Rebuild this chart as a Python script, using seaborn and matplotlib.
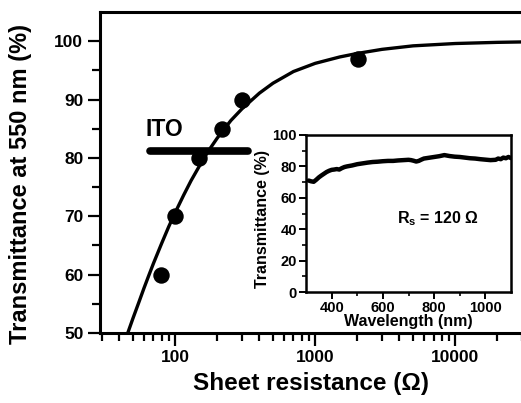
import numpy as np
import pandas as pd
import matplotlib
matplotlib.use("Agg")
import matplotlib.pyplot as plt
import seaborn as sns
from matplotlib.ticker import LogLocator, FixedLocator, MultipleLocator, NullFormatter

# ---- data ----
rs_points = [79, 100, 148, 217, 300, 2030]
t_points = [60.0, 70.0, 80.0, 85.0, 90.0, 96.9]

rs_fit = [45, 50, 55, 60, 65, 70, 80, 90, 100, 115, 130, 145, 160, 180, 200, 250, 300,
          400, 500, 700, 1000, 1500, 2000, 3000, 5000, 10000, 20000, 30000]
t_fit = [49.4, 52.5, 55.2, 57.7, 59.9, 61.9, 65.3, 68.2, 70.6, 73.6, 76.1, 78.1, 79.9,
         81.8, 83.4, 86.4, 88.4, 91.1, 92.8, 94.8, 96.2, 97.3, 97.9, 98.6, 99.2, 99.6,
         99.8, 99.87]

ito_rs = [66, 330]
ito_t = [81.2, 81.2]

wl = [310, 320, 330, 340, 350, 360, 370, 380, 390, 400, 410, 420, 430, 440, 450, 460,
      470, 480, 490, 500, 520, 540, 560, 580, 600, 620, 640, 660, 680, 700, 710, 720,
      730, 740, 750, 760, 780, 800, 820, 840, 860, 880, 900, 920, 940, 960, 980, 1000,
      1020, 1040, 1050, 1060, 1070, 1080, 1090, 1100]
tr = [71.0, 70.5, 70.2, 71.5, 73.0, 74.2, 75.3, 76.4, 77.2, 77.8, 78.0, 78.3, 78.0, 78.9,
      79.6, 80.0, 80.3, 80.6, 81.0, 81.4, 81.9, 82.4, 82.8, 83.0, 83.3, 83.5, 83.5, 83.8,
      84.0, 84.2, 84.0, 83.6, 83.1, 83.5, 84.3, 85.0, 85.5, 86.0, 86.5, 87.2, 86.6, 86.2,
      86.0, 85.6, 85.2, 85.0, 84.6, 84.3, 84.0, 84.2, 85.0, 84.6, 85.6, 85.2, 86.0, 85.3]

sns.set_theme(style="ticks")
plt.rcParams['font.family'] = ['Liberation Sans', 'DejaVu Sans']
plt.rcParams['font.weight'] = 'bold'
plt.rcParams['text.color'] = 'black'
plt.rcParams['axes.labelcolor'] = 'black'
plt.rcParams['xtick.color'] = 'black'
plt.rcParams['ytick.color'] = 'black'

fig = plt.figure(figsize=(5.21, 4.03), dpi=100)
W, H = 521, 403
ax = fig.add_axes([100 / W, 1 - 333 / H, (W - 100) / W + 0.002, (333 - 12) / H])

sns.lineplot(x=rs_fit, y=t_fit, ax=ax, color='black', linewidth=2.4, sort=False)
sns.scatterplot(x=rs_points, y=t_points, ax=ax, color='black', s=140, edgecolor='black',
                linewidth=0, zorder=5)
sns.lineplot(x=ito_rs, y=ito_t, ax=ax, color='black', linewidth=5.5, sort=False)
ax.text(83.5, 84.8, 'ITO', fontsize=16.5, fontweight='bold', ha='center', va='center',
        color='black')

ax.set_xscale('log')
ax.set_xlim(29.1, 30000)
ax.set_ylim(50, 105)
ax.yaxis.set_major_locator(FixedLocator([50, 60, 70, 80, 90, 100]))
ax.yaxis.set_minor_locator(FixedLocator([55, 65, 75, 85, 95]))
ax.xaxis.set_major_locator(FixedLocator([100, 1000, 10000]))
ax.xaxis.set_minor_locator(LogLocator(base=10, subs=np.arange(2, 10)))
ax.xaxis.set_minor_formatter(NullFormatter())
ax.set_xticklabels(['100', '1000', '10000'])

for s in ['left', 'bottom', 'top']:
    ax.spines[s].set_linewidth(2.2)
    ax.spines[s].set_color('black')
ax.spines['right'].set_visible(False)
ax.tick_params(axis='both', which='major', length=9, width=1.6, direction='out',
               labelsize=12.5, color='black', labelcolor='black', pad=3)
ax.tick_params(axis='both', which='minor', length=5.5, width=1.6, direction='out',
               color='black')
ax.tick_params(top=False, right=False, which='both')
for lbl in ax.get_xticklabels() + ax.get_yticklabels():
    lbl.set_fontweight('bold')
ax.set_xlabel('Sheet resistance (Ω)', fontsize=17.5, fontweight='bold', labelpad=5)
ax.set_ylabel('Transmittance at 550 nm (%)', fontsize=17, fontweight='bold')
ax.yaxis.set_label_coords(-0.16, 0.464)
ax.set_facecolor('white')

# ---- inset ----
ins = fig.add_axes([306 / W, 1 - 292 / H, (511 - 306) / W, (292 - 135) / H])
sns.lineplot(x=wl, y=tr, ax=ins, color='black', linewidth=3.2, sort=False)
ins.set_xlim(300, 1100)
ins.set_ylim(0, 100)
ins.xaxis.set_major_locator(FixedLocator([400, 600, 800, 1000]))
ins.xaxis.set_minor_locator(FixedLocator([500, 700, 900]))
ins.yaxis.set_major_locator(MultipleLocator(20))
ins.yaxis.set_minor_locator(MultipleLocator(10))
for s in ins.spines.values():
    s.set_linewidth(1.8)
    s.set_color('black')
ins.tick_params(axis='both', which='major', length=5, width=1.4, direction='out',
                labelsize=10.5, color='black', labelcolor='black', pad=1.5)
ins.tick_params(axis='both', which='minor', length=3, width=1.2, direction='out', color='black')
for lbl in ins.get_xticklabels() + ins.get_yticklabels():
    lbl.set_fontweight('bold')
ins.set_xlabel('Wavelength (nm)', fontsize=11.5, fontweight='bold', labelpad=-1)
ins.set_ylabel('Transmittance (%)', fontsize=11.5, fontweight='bold')
ins.yaxis.set_label_coords(-0.176, 0.465)
ins.text(655, 47, 'R$_\\mathregular{s}$ = 120 Ω', fontsize=11.5, fontweight='bold',
         ha='left', va='center', color='black')
ins.set_facecolor('white')

fig.savefig('out.png', dpi=100, facecolor='white')
